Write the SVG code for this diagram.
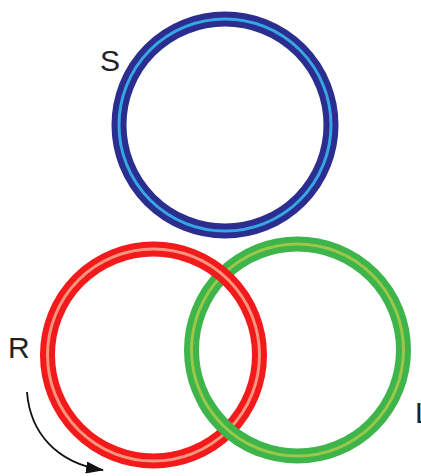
<svg xmlns="http://www.w3.org/2000/svg" width="421" height="476" viewBox="0 0 421 476">
<style>
.lbl{font-family:"Liberation Sans",Arial,sans-serif;font-size:30px;fill:#222}
.ring{fill:none;stroke-width:15}
.stripe{fill:none;stroke-width:3}
.blue .ring{stroke:#2c2e8f}
.blue .stripe{stroke:#35a6e6}
.red .ring{stroke:#f21a1a}
.red .stripe{stroke:#f7967e}
.green .ring{stroke:#3db54a}
.green .stripe{stroke:#9cc74a}
.arrow{fill:none;stroke:#111;stroke-width:1.8}
</style>
<defs>
<marker id="ah" markerWidth="18" markerHeight="12" refX="17" refY="6" orient="auto" markerUnits="userSpaceOnUse">
<path d="M0,0 L18,6 L0,12 Z" fill="#111"/>
</marker>
<clipPath id="lowX"><rect x="198" y="400" width="60" height="60"/></clipPath>
</defs>
<rect width="421" height="476" fill="#fff"/>
<g id="ring-S" class="blue">
<circle class="ring" cx="225" cy="125" r="106"/>
<circle class="stripe" cx="225" cy="125" r="106"/>
</g>
<g id="ring-I" class="green">
<circle class="ring" cx="297.5" cy="350" r="106"/>
<circle class="stripe" cx="297.5" cy="350" r="106"/>
</g>
<g id="ring-R" class="red">
<circle class="ring" cx="153.5" cy="355" r="106"/>
<circle class="stripe" cx="153.5" cy="355" r="106"/>
</g>
<g id="ring-I-over" class="green" clip-path="url(#lowX)">
<circle class="ring" cx="297.5" cy="350" r="106"/>
<circle class="stripe" cx="297.5" cy="350" r="106"/>
</g>
<g id="labels">
<text class="lbl" x="100" y="71">S</text>
<text class="lbl" x="8" y="358">R</text>
<text class="lbl" x="415" y="423">L</text>
</g>
<g id="connectors">
<path class="arrow" d="M27,392 C30,432 56,463 103,470" marker-end="url(#ah)"/>
</g>
</svg>
